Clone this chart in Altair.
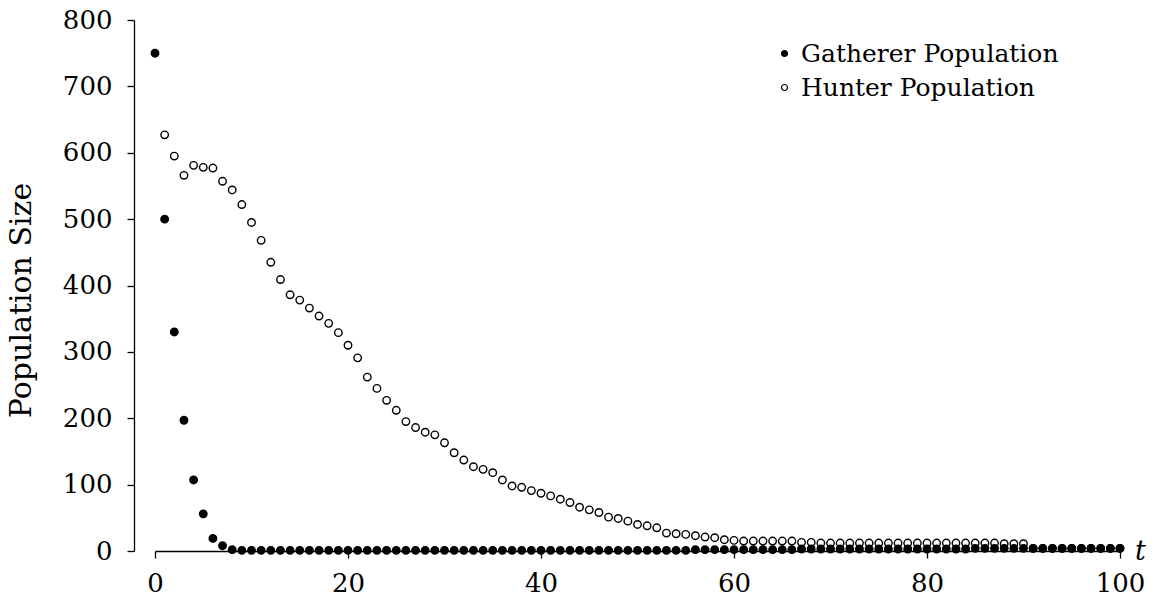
import altair as alt
import pandas as pd

t_values = list(range(0, 101))

gatherer = [
    750, 500, 330, 197, 107, 56, 19, 8, 2, 1,
    1, 1, 1, 1, 1, 1, 1, 1, 1, 1,
    1, 1, 1, 1, 1, 1, 1, 1, 1, 1,
    1, 1, 1, 1, 1, 1, 1, 1, 1, 1,
    1, 1, 1, 1, 1, 1, 1, 1, 1, 1,
    1, 1, 1, 1, 1, 1, 2, 2, 2, 2,
    2, 2, 2, 2, 2, 2, 2, 3, 3, 3,
    3, 3, 3, 3, 3, 3, 3, 3, 3, 3,
    3, 3, 3, 3, 3, 4, 4, 4, 4, 4,
    4, 4, 4, 4, 4, 4, 4, 4, 4, 4,
    4,
]

hunter = [
    None, 627, 595, 566, 581, 578, 577, 557, 544, 522,
    495, 468, 435, 409, 386, 378, 366, 354, 343, 329,
    310, 291, 262, 245, 227, 212, 195, 186, 179, 175,
    163, 148, 137, 127, 123, 118, 107, 98, 96, 91,
    87, 83, 78, 73, 66, 62, 58, 51, 49, 45,
    40, 38, 35, 27, 26, 25, 23, 21, 20, 17,
    16, 15, 15, 15, 15, 15, 15, 13, 13, 12,
    12, 12, 12, 12, 12, 12, 12, 12, 12, 12,
    12, 12, 12, 12, 12, 12, 12, 12, 11, 11,
    11, 4, 4, 4, 4, 4, 4, 4, 4, 4,
    4,
]

series_names = ["Gatherer Population", "Hunter Population"]
x_ticks = [0, 20, 40, 60, 80, 100]
y_ticks = [0, 100, 200, 300, 400, 500, 600, 700, 800]

rows = []
for t, v in zip(t_values, hunter):
    if v is not None:
        rows.append({"t": t, "value": v, "series": series_names[1]})
for t, v in zip(t_values, gatherer):
    rows.append({"t": t, "value": v, "series": series_names[0]})
df = pd.DataFrame(rows)

FONT = "DejaVu Serif"

chart = alt.Chart(df).mark_point(
    filled=True, size=56, stroke="black", strokeWidth=1.4, opacity=1
).encode(
    x=alt.X(
        "t:Q",
        scale=alt.Scale(domain=[0, 100], nice=False, zero=False),
        axis=alt.Axis(
            values=x_ticks, format="d", title="t", labelFlush=False,
            titleAngle=0, titleX=985, titleY=0, titleAlign="center",
            titleBaseline="middle", titleFontStyle="italic",
            titleFontSize=27, titleFont=FONT, titleFontWeight="normal",
            labelPadding=12,
        ),
    ),
    y=alt.Y(
        "value:Q",
        scale=alt.Scale(domain=[0, 800], nice=False),
        axis=alt.Axis(
            values=y_ticks, format="d", title="Population Size",
            offset=21, titlePadding=26, labelPadding=15, titleY=280,
            titleFontSize=30, titleFont=FONT, titleFontWeight="normal",
        ),
    ),
    fill=alt.Fill(
        "series:N",
        scale=alt.Scale(domain=series_names, range=["black", "white"]),
        legend=alt.Legend(
            title=None, orient="none", legendX=617, legendY=21,
            symbolType="circle", symbolSize=36, symbolStrokeColor="black",
            symbolStrokeWidth=1.2, labelFont=FONT, labelFontSize=25,
            labelColor="black", rowPadding=8, labelOffset=4, labelLimit=500,
        ),
    ),
).properties(
    width=965, height=531,
    autosize=alt.AutoSizeParams(type="none"),
    padding={"left": 155, "top": 20, "right": 33, "bottom": 45},
).configure_view(stroke=None).configure_axis(
    grid=False, domainColor="black", tickColor="black", domainWidth=1.3,
    tickWidth=1.3, tickSize=7, labelFont=FONT, labelFontSize=26,
    labelColor="black", titleColor="black",
)

chart.save("out.html", embed_options={"renderer": "svg", "actions": False})
